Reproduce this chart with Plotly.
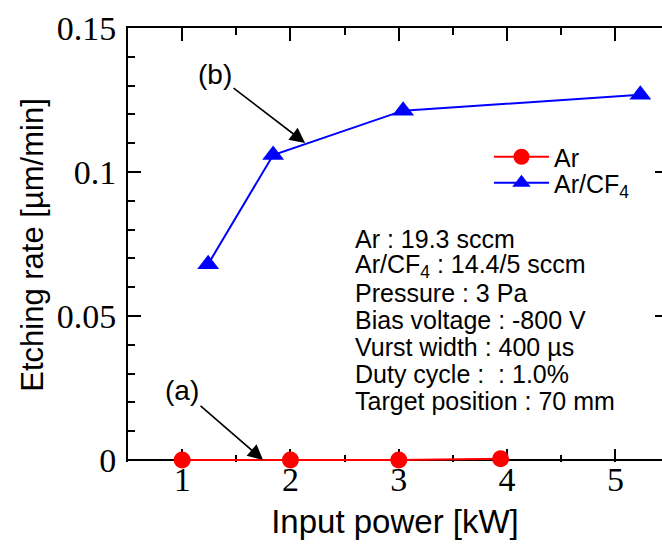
import plotly.graph_objects as go

# Etching rate vs. input power
ar_power = [1.0, 2.0, 3.0, 3.94]
ar_rate = [0.0, 0.0, 0.0, 0.0004]

arcf4_power = [1.24, 1.84, 3.04, 5.23]
arcf4_rate = [0.068, 0.1059, 0.1213, 0.1268]

conditions = [
    "Ar : 19.3 sccm",
    "Ar/CF<sub>4</sub> : 14.4/5 sccm",
    "Pressure : 3 Pa",
    "Bias voltage : -800 V",
    "Vurst width : 400 \u00b5s",
    "Duty cycle :  : 1.0%",
    "Target position : 70 mm",
]

SANS = "Liberation Sans, Arial, sans-serif"
SERIF = "Liberation Serif, Times New Roman, serif"

W, H = 662, 544
ML, MR, MT, MB = 128, 0, 28, 82
XMIN, XMAX = 0.5, 5.43
YMIN, YMAX = -0.0007, 0.15   # small pad so the zero line sits just inside the frame
PH = H - MT - MB

fig = go.Figure()

fig.add_trace(go.Scatter(
    x=ar_power, y=ar_rate, name="Ar", mode="lines+markers",
    line=dict(color="#ff0000", width=2),
    marker=dict(symbol="circle", size=17, color="#ff0000"),
    cliponaxis=False, legend="legend",
))
fig.add_trace(go.Scatter(
    x=arcf4_power, y=arcf4_rate, name="Ar/CF<sub>4</sub>", mode="lines+markers",
    line=dict(color="#0000ff", width=2),
    marker=dict(symbol="triangle-up", size=19, color="#0000ff"),
    cliponaxis=False, legend="legend2",
))
# empty traces so the top and right frame axes are drawn
fig.add_trace(go.Scatter(x=[None], y=[None], xaxis="x", yaxis="y2",
                         showlegend=False, hoverinfo="skip"))
fig.add_trace(go.Scatter(x=[None], y=[None], xaxis="x2", yaxis="y",
                         showlegend=False, hoverinfo="skip"))

x_minor = dict(dtick=0.5, ticks="inside", ticklen=7, tickwidth=2, tickcolor="black")

fig.update_layout(
    width=W, height=H,
    margin=dict(l=ML, r=MR, t=MT, b=MB),
    paper_bgcolor="white", plot_bgcolor="white",
    xaxis=dict(
        range=[XMIN, XMAX], dtick=1, tick0=0,
        showline=False, showgrid=False, zeroline=False,
        ticks="inside", ticklen=13, tickwidth=2, tickcolor="black",
        layer="below traces", minor=x_minor,
        tickfont=dict(family=SERIF, size=34, color="black"),
        ticklabelstandoff=-6,
        title=dict(text="Input power [kW]", font=dict(family=SANS, size=33, color="black"),
                   standoff=12),
    ),
    xaxis2=dict(
        range=[XMIN, XMAX], dtick=1, tick0=0, overlaying="x", side="top", anchor="y",
        showline=True, linecolor="black", linewidth=2, showticklabels=False,
        showgrid=False, zeroline=False,
        ticks="inside", ticklen=13, tickwidth=2, tickcolor="black",
        minor=x_minor,
    ),
    yaxis=dict(
        range=[YMIN, YMAX], dtick=0.05, tick0=0,
        showline=True, linecolor="black", linewidth=2, showgrid=False,
        zeroline=True, zerolinecolor="black", zerolinewidth=2,
        ticks="inside", ticklen=13, tickwidth=2, tickcolor="black",
        layer="below traces",
        minor=dict(dtick=0.01, ticks="inside", ticklen=7, tickwidth=2, tickcolor="black"),
        tickfont=dict(family=SERIF, size=34, color="black"),
        ticklabelstandoff=3,
        title=dict(text="Etching rate [\u00b5m/min]", font=dict(family=SANS, size=31, color="black"),
                   standoff=4),
    ),
    yaxis2=dict(
        range=[YMIN, YMAX], dtick=0.05, tick0=0, overlaying="y", side="right", anchor="x",
        showline=False, showticklabels=False,
        ticks="inside", ticklen=7, tickwidth=2, tickcolor="black",
        showgrid=False, zeroline=False,
    ),
    legend=dict(x=0.676, y=1 - (157 - MT) / PH, xanchor="left", yanchor="middle",
                font=dict(family=SANS, size=25, color="black"),
                bgcolor="rgba(0,0,0,0)", itemwidth=55),
    legend2=dict(x=0.676, y=1 - (183 - MT) / PH, xanchor="left", yanchor="middle",
                 font=dict(family=SANS, size=25, color="black"),
                 bgcolor="rgba(0,0,0,0)", itemwidth=55),
    showlegend=True,
)

# condition notes, one line each
line_y = [239, 266, 293, 320, 347, 374, 401]
for txt, py in zip(conditions, line_y):
    fig.add_annotation(
        text=txt, xref="paper", yref="paper",
        x=(353 - ML) / (W - ML - MR), y=1 - (py - MT) / PH,
        xanchor="left", yanchor="middle", showarrow=False,
        font=dict(family=SANS, size=25, color="black"),
    )

# (a) and (b) callouts
for label, head, tail in [("(a)", (1.747, 0.0), (0.999, 0.0243)),
                          ("(b)", (2.135, 0.1101), (1.304, 0.134))]:
    fig.add_annotation(
        text=label, x=head[0], y=head[1], ax=tail[0], ay=tail[1],
        xref="x", yref="y", axref="x", ayref="y",
        showarrow=True, arrowhead=2, arrowsize=1.9, arrowwidth=1.6,
        arrowcolor="black", standoff=0,
        font=dict(family=SANS, size=28, color="black"),
    )

fig.write_html("out.html")
